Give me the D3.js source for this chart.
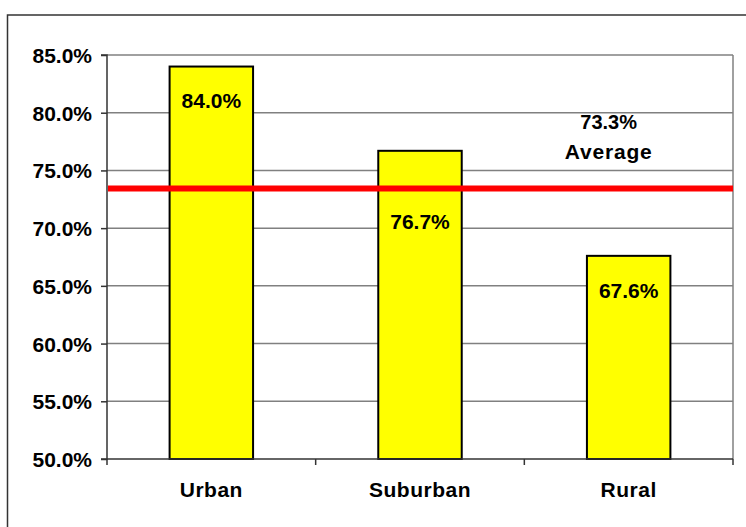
<!DOCTYPE html>
<html>
<head>
<meta charset="utf-8">
<script src="https://cdn.jsdelivr.net/npm/d3@7"></script>
<style>
  html, body { margin: 0; padding: 0; background: #fff; }
  svg { display: block; }
  text { font-family: "Liberation Sans", Arial, sans-serif; font-weight: bold; fill: #000; }
</style>
</head>
<body>
<svg id="chart" width="746" height="527"></svg>
<script>
const categories = ["Urban", "Suburban", "Rural"];
const values = [84.0, 76.7, 67.6];
const valueLabels = ["84.0%", "76.7%", "67.6%"];
const averageValue = 73.3;
const averageLabel = ["73.3%", "Average"];
const yTicks = [50, 55, 60, 65, 70, 75, 80, 85];
const yTickLabels = ["50.0%", "55.0%", "60.0%", "65.0%", "70.0%", "75.0%", "80.0%", "85.0%"];
// label offsets below bar top (px)
const labelOffsets = [41, 78, 42];

const svg = d3.select("#chart");
const plot = { left: 107, top: 55, right: 733, bottom: 459 };

// outer chart border
svg.append("rect")
  .attr("x", 7.5).attr("y", 15)
  .attr("width", 800).attr("height", 600)
  .attr("fill", "#fff").attr("stroke", "#333").attr("stroke-width", 1.5);

const x = d3.scaleBand().domain(categories).range([plot.left, plot.right]).paddingInner(0.6).paddingOuter(0.3);
const xOuter = d3.scaleBand().domain(categories).range([plot.left, plot.right]);
const y = d3.scaleLinear().domain([50, 85]).range([plot.bottom, plot.top]);

// gridlines
svg.append("g").selectAll("line").data(yTicks.filter(d => d > 50)).join("line")
  .attr("x1", plot.left).attr("x2", plot.right)
  .attr("y1", d => y(d)).attr("y2", d => y(d))
  .attr("stroke", "#808080").attr("stroke-width", 1.5);

// plot area right border
svg.append("line")
  .attr("x1", plot.right).attr("x2", plot.right)
  .attr("y1", plot.top).attr("y2", plot.bottom)
  .attr("stroke", "#808080").attr("stroke-width", 1.5);

// bars
svg.append("g").selectAll("rect").data(values).join("rect")
  .attr("x", (d, i) => x(categories[i]))
  .attr("width", x.bandwidth())
  .attr("y", d => y(d))
  .attr("height", d => y(50) - y(d))
  .attr("fill", "#ffff00").attr("stroke", "#000").attr("stroke-width", 2);

// y axis
const yAxis = d3.axisLeft(y).tickValues(yTicks).tickFormat((d, i) => yTickLabels[i]).tickSize(6).tickPadding(9);
const gy = svg.append("g").attr("transform", `translate(${plot.left},0)`).call(yAxis);
gy.select(".domain").attr("stroke", "#333").attr("stroke-width", 1.5).attr("d", `M-6,${plot.top}H0V${plot.bottom}H-6`);
gy.selectAll(".tick line").attr("stroke", "#333").attr("stroke-width", 1.5);
gy.selectAll(".tick text").style("font-size", "21px").style("font-family", "'Liberation Sans', Arial, sans-serif").style("font-weight", "bold").attr("fill", "#000").attr("dy", "0.36em");

// x axis
const gx = svg.append("g").attr("transform", `translate(0,${plot.bottom})`);
gx.append("line").attr("x1", plot.left).attr("x2", plot.right).attr("y1", 0).attr("y2", 0)
  .attr("stroke", "#333").attr("stroke-width", 1.5);
const boundaries = categories.map(c => xOuter(c)).concat([plot.right]);
gx.selectAll("line.tk").data(boundaries).join("line").attr("class", "tk")
  .attr("x1", d => d).attr("x2", d => d).attr("y1", 0).attr("y2", 6)
  .attr("stroke", "#333").attr("stroke-width", 1.5);
gx.selectAll("text").data(categories).join("text")
  .attr("x", d => xOuter(d) + xOuter.bandwidth() / 2)
  .attr("y", 38)
  .attr("text-anchor", "middle")
  .style("font-size", "21px").style("letter-spacing", "0.5px")
  .text(d => d);

// average line
svg.append("line")
  .attr("x1", plot.left + 1).attr("x2", plot.right)
  .attr("y1", y(averageValue) - 1.5).attr("y2", y(averageValue) - 1.5)
  .attr("stroke", "#ff0000").attr("stroke-width", 6);

// value labels
svg.append("g").selectAll("text").data(values).join("text")
  .attr("x", (d, i) => x(categories[i]) + x.bandwidth() / 2)
  .attr("y", (d, i) => y(d) + labelOffsets[i])
  .attr("text-anchor", "middle")
  .style("font-size", "21px")
  .text((d, i) => valueLabels[i]);

// average annotation
const avgX = xOuter("Rural") + xOuter.bandwidth() / 2 - 20;
svg.append("text").attr("x", avgX).attr("y", 129).attr("text-anchor", "middle")
  .style("font-size", "20px").text(averageLabel[0]);
svg.append("text").attr("x", avgX).attr("y", 159).attr("text-anchor", "middle")
  .style("font-size", "21px").style("letter-spacing", "0.8px").text(averageLabel[1]);
</script>
</body>
</html>
